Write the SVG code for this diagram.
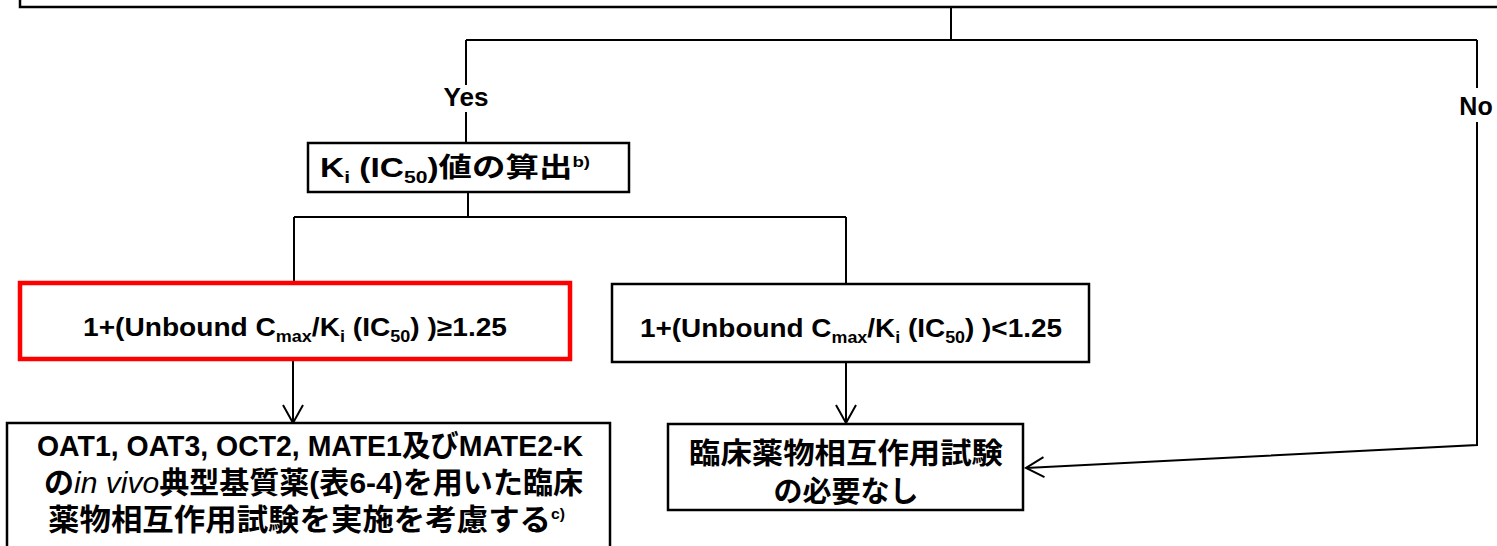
<svg xmlns="http://www.w3.org/2000/svg" width="1497" height="546" viewBox="0 0 1497 546">
<defs>
<marker id="arr" markerUnits="userSpaceOnUse" markerWidth="22" markerHeight="24" refX="19" refY="11" orient="auto">
<path d="M1,1 L19,11 L1,21" fill="none" stroke="#000" stroke-width="2"/>
</marker>
</defs>
<style>
.box{fill:#fff;stroke:#000;stroke-width:2.5}
.red{fill:#fff;stroke:#f00;stroke-width:4.5}
.ln{fill:none;stroke:#000;stroke-width:2}
.t{font-family:"Liberation Sans","Noto Sans CJK JP",sans-serif;font-weight:bold;fill:#000}
.cjk{font-family:"Noto Sans CJK JP","Liberation Sans",sans-serif;font-weight:bold;fill:#000}
</style>
<rect width="1497" height="546" fill="#fff"/>
<g id="top-box"><rect class="box" x="20" y="-30" width="1500" height="37" stroke-width="3"/></g>
<g id="connectors">
<path class="ln" d="M951,7 V40"/>
<path class="ln" d="M466,40 H1477"/>
<path class="ln" d="M466,40 V85"/>
<path class="ln" d="M466,112 V143"/>
<path class="ln" d="M1477,40 V88"/>
<path class="ln" d="M1477,122 V445 L1026,468" marker-end="url(#arr)"/>
<path class="ln" d="M468,192 V217"/>
<path class="ln" d="M294,217 H846"/>
<path class="ln" d="M294,217 V283"/>
<path class="ln" d="M846,217 V284"/>
<path class="ln" d="M293,360 V423" marker-end="url(#arr)"/>
<path class="ln" d="M846,362 V423" marker-end="url(#arr)"/>
<text class="t" x="466" y="106" font-size="25" text-anchor="middle" textLength="45" lengthAdjust="spacingAndGlyphs">Yes</text>
<text class="t" x="1476" y="115" font-size="25" text-anchor="middle">No</text>
</g>
<g id="node-ki">
<rect class="box" x="308" y="143" width="321" height="49"/>
<text class="t" x="320" y="177" font-size="27" textLength="270" lengthAdjust="spacingAndGlyphs">K<tspan font-size="17" dy="6">i</tspan><tspan dy="-6"> (IC</tspan><tspan font-size="17" dy="6">50</tspan><tspan dy="-6">)値の算出</tspan><tspan font-size="15" dy="-10">b)</tspan></text>
</g>
<g id="node-ge">
<rect class="red" x="20" y="283" width="550" height="76"/>
<text class="t" x="83" y="336" font-size="25" textLength="424" lengthAdjust="spacingAndGlyphs">1+(Unbound C<tspan font-size="16" dy="6">max</tspan><tspan dy="-6">/K</tspan><tspan font-size="16" dy="6">i</tspan><tspan dy="-6"> (IC</tspan><tspan font-size="16" dy="6">50</tspan><tspan dy="-6">) )≥1.25</tspan></text>
</g>
<g id="node-lt">
<rect class="box" x="612" y="284" width="477" height="78"/>
<text class="t" x="640" y="337" font-size="25" textLength="422" lengthAdjust="spacingAndGlyphs">1+(Unbound C<tspan font-size="16" dy="6">max</tspan><tspan dy="-6">/K</tspan><tspan font-size="16" dy="6">i</tspan><tspan dy="-6"> (IC</tspan><tspan font-size="16" dy="6">50</tspan><tspan dy="-6">) )&lt;1.25</tspan></text>
</g>
<g id="node-study">
<rect class="box" x="7" y="423" width="603" height="140"/>
<text class="t" x="37" y="456" font-size="30" textLength="546" lengthAdjust="spacingAndGlyphs">OAT1, OAT3, OCT2, MATE1及びMATE2-K</text>
<text class="t" x="44" y="493" font-size="30" textLength="539" lengthAdjust="spacingAndGlyphs">の<tspan font-style="italic" font-weight="normal">in vivo</tspan>典型基質薬(表6-4)を用いた臨床</text>
<text class="t" x="48" y="530" font-size="30" textLength="517" lengthAdjust="spacingAndGlyphs">薬物相互作用試験を実施を考慮する<tspan font-size="15" dy="-11">c)</tspan></text>
</g>
<g id="node-none">
<rect class="box" x="668" y="424" width="355" height="86"/>
<text class="cjk" x="846" y="464" font-size="29" text-anchor="middle" textLength="314" lengthAdjust="spacingAndGlyphs">臨床薬物相互作用試験</text>
<text class="cjk" x="846" y="502" font-size="29" text-anchor="middle">の必要なし</text>
</g>
</svg>
